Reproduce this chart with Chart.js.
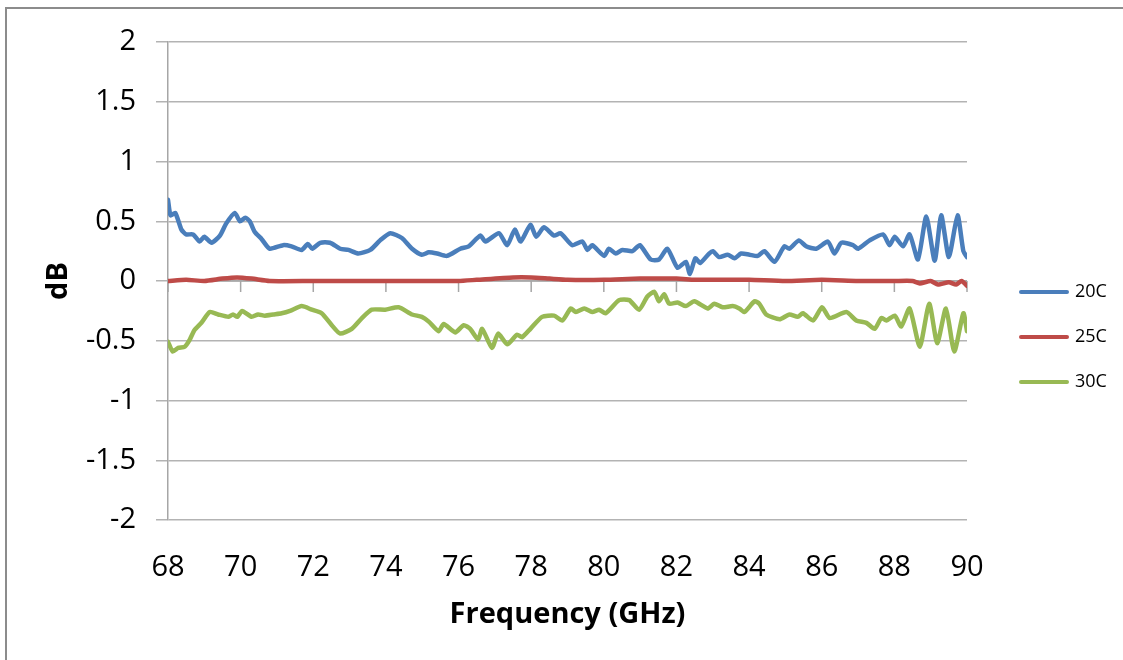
<!DOCTYPE html>
<html lang="en">
<head>
  <meta charset="UTF-8">
  <title>dB vs Frequency</title>
  <script src="https://cdn.jsdelivr.net/npm/chart.js"></script>
  <style>
    body {
      margin: 0;
      background: #fff;
    }

    .wrap {
      position: relative;
      width: 1123px;
      height: 660px;
      overflow: hidden;
    }

    .frame {
      position: absolute;
      left: 5px;
      top: 7px;
      width: 1300px;
      height: 800px;
      border: 2px solid #8c8c8c;
    }

    canvas {
      position: absolute;
      left: 0;
      top: 0;
    }
  </style>
</head>
<body>

  <div class="wrap">
    <div class="frame"></div>
    <canvas id="dbChart" width="1123" height="660"></canvas>
  </div>

  <script>
    const FONT = "'Open Sans', 'Liberation Sans', sans-serif";

    // series (GHz, dB)
    const freq20 = [68.0, 68.07, 68.2, 68.37, 68.5, 68.69, 68.87, 69.0, 69.2, 69.43, 69.6, 69.84, 69.98, 70.13, 70.25, 70.39, 70.58, 70.8, 71.17, 71.4, 71.68, 71.85, 71.97, 72.19, 72.46, 72.74, 72.97, 73.24, 73.57, 73.84, 74.12, 74.44, 74.72, 74.99, 75.18, 75.41, 75.68, 76.05, 76.28, 76.6, 76.74, 77.11, 77.34, 77.55, 77.71, 77.98, 78.14, 78.35, 78.63, 78.81, 79.13, 79.41, 79.55, 79.68, 80.01, 80.14, 80.33, 80.51, 80.79, 80.99, 81.29, 81.52, 81.75, 82.03, 82.26, 82.37, 82.52, 82.65, 82.9, 83.0, 83.18, 83.41, 83.6, 83.78, 84.01, 84.24, 84.42, 84.7, 84.97, 85.11, 85.37, 85.57, 85.85, 86.17, 86.35, 86.54, 86.86, 87.0, 87.32, 87.69, 87.87, 88.01, 88.24, 88.42, 88.65, 88.88, 89.11, 89.29, 89.5, 89.74, 89.9, 90.0];
    const db20 = [0.68, 0.55, 0.57, 0.43, 0.39, 0.39, 0.33, 0.37, 0.32, 0.38, 0.48, 0.57, 0.50, 0.53, 0.50, 0.41, 0.35, 0.27, 0.30, 0.29, 0.26, 0.31, 0.27, 0.32, 0.32, 0.27, 0.26, 0.23, 0.26, 0.34, 0.40, 0.36, 0.27, 0.22, 0.24, 0.23, 0.21, 0.27, 0.29, 0.38, 0.33, 0.40, 0.30, 0.43, 0.33, 0.47, 0.37, 0.45, 0.38, 0.40, 0.30, 0.33, 0.26, 0.30, 0.21, 0.27, 0.23, 0.26, 0.25, 0.30, 0.18, 0.18, 0.27, 0.11, 0.16, 0.06, 0.19, 0.15, 0.23, 0.25, 0.20, 0.22, 0.19, 0.23, 0.22, 0.21, 0.25, 0.16, 0.29, 0.27, 0.34, 0.29, 0.27, 0.33, 0.23, 0.32, 0.30, 0.27, 0.34, 0.39, 0.30, 0.37, 0.29, 0.39, 0.18, 0.54, 0.17, 0.55, 0.20, 0.55, 0.25, 0.20];

    const freq25 = [68.0, 68.5, 69.0, 69.5, 69.9, 70.3, 70.8, 72.0, 73.0, 74.0, 75.0, 76.0, 76.5, 77.5, 78.0, 78.5, 79.0, 80.0, 81.0, 82.0, 82.5, 83.0, 84.0, 85.0, 86.0, 87.0, 88.0, 88.5, 88.7, 89.0, 89.2, 89.5, 89.7, 89.85, 90.0];
    const db25 = [0.0, 0.01, 0.0, 0.02, 0.03, 0.02, 0.0, 0.0, 0.0, 0.0, 0.0, 0.0, 0.01, 0.03, 0.03, 0.02, 0.01, 0.01, 0.02, 0.02, 0.01, 0.01, 0.01, 0.0, 0.01, 0.0, 0.0, 0.0, -0.02, 0.0, -0.03, -0.01, -0.03, 0.0, -0.04];

    const freq30 = [68.0, 68.13, 68.28, 68.46, 68.6, 68.73, 68.92, 69.15, 69.38, 69.66, 69.79, 69.91, 70.04, 70.3, 70.48, 70.67, 70.9, 71.13, 71.36, 71.68, 71.96, 72.23, 72.51, 72.74, 73.06, 73.34, 73.61, 73.98, 74.35, 74.72, 74.99, 75.18, 75.45, 75.59, 75.91, 76.14, 76.32, 76.54, 76.65, 76.92, 77.09, 77.34, 77.61, 77.75, 77.98, 78.3, 78.63, 78.86, 79.09, 79.23, 79.46, 79.68, 79.87, 80.05, 80.42, 80.7, 80.97, 81.2, 81.39, 81.52, 81.66, 81.8, 82.03, 82.26, 82.49, 82.86, 83.04, 83.27, 83.55, 83.73, 83.87, 84.15, 84.28, 84.47, 84.84, 85.11, 85.34, 85.48, 85.76, 86.01, 86.22, 86.68, 86.95, 87.23, 87.46, 87.64, 87.78, 88.01, 88.19, 88.42, 88.7, 88.96, 89.18, 89.42, 89.65, 89.9, 90.0];
    const db30 = [-0.51, -0.59, -0.56, -0.55, -0.49, -0.41, -0.35, -0.26, -0.28, -0.30, -0.28, -0.30, -0.25, -0.30, -0.28, -0.29, -0.28, -0.27, -0.25, -0.21, -0.24, -0.27, -0.37, -0.44, -0.40, -0.31, -0.24, -0.24, -0.22, -0.28, -0.30, -0.34, -0.42, -0.36, -0.43, -0.37, -0.40, -0.49, -0.40, -0.56, -0.44, -0.53, -0.45, -0.47, -0.40, -0.30, -0.29, -0.33, -0.23, -0.26, -0.23, -0.26, -0.24, -0.27, -0.16, -0.16, -0.24, -0.13, -0.09, -0.17, -0.11, -0.19, -0.18, -0.21, -0.17, -0.23, -0.19, -0.22, -0.21, -0.23, -0.26, -0.17, -0.19, -0.28, -0.32, -0.28, -0.30, -0.27, -0.33, -0.22, -0.31, -0.26, -0.33, -0.35, -0.40, -0.31, -0.33, -0.29, -0.38, -0.23, -0.55, -0.19, -0.52, -0.23, -0.59, -0.27, -0.42];

    const seriesNames = ['20C', '25C', '30C'];
    const seriesColors = ['#4a7ebb', '#be4b48', '#98b954'];

    function pairs(xs, ys) {
      return xs.map((x, i) => ({ x: x, y: ys[i] }));
    }

    // Excel-style horizontal axis crossing at 0 with tick marks
    const zeroAxis = {
      id: 'zeroAxis',
      beforeDatasetsDraw(chart) {
        const { ctx, chartArea, scales } = chart;
        const y0 = scales.y.getPixelForValue(0);
        ctx.save();
        ctx.strokeStyle = '#a6a6a6';
        ctx.lineWidth = 1.5;
        ctx.beginPath();
        ctx.moveTo(chartArea.left, y0);
        ctx.lineTo(chartArea.right, y0);
        scales.x.ticks.forEach(t => {
          const px = scales.x.getPixelForValue(t.value);
          ctx.moveTo(px, y0);
          ctx.lineTo(px, y0 + 11);
        });
        ctx.stroke();
        ctx.restore();
      }
    };

    // legend on the right, lines + labels
    const sideLegend = {
      id: 'sideLegend',
      afterDraw(chart) {
        const ctx = chart.ctx;
        ctx.save();
        ctx.font = '18px ' + FONT;
        ctx.textBaseline = 'middle';
        ctx.fillStyle = '#000';
        chart.data.datasets.forEach((ds, i) => {
          const y = 292 + i * 45;
          ctx.strokeStyle = ds.borderColor;
          ctx.lineWidth = 4;
          ctx.lineCap = 'round';
          ctx.beginPath();
          ctx.moveTo(1021, y);
          ctx.lineTo(1067, y);
          ctx.stroke();
          ctx.fillText(ds.label, 1075, y);
        });
        ctx.restore();
      }
    };

    const ctx = document.getElementById('dbChart').getContext('2d');
    new Chart(ctx, {
      type: 'line',
      data: {
        datasets: [
          { label: seriesNames[0], data: pairs(freq20, db20), borderColor: seriesColors[0] },
          { label: seriesNames[1], data: pairs(freq25, db25), borderColor: seriesColors[1] },
          { label: seriesNames[2], data: pairs(freq30, db30), borderColor: seriesColors[2] }
        ]
      },
      options: {
        responsive: false,
        animation: false,
        layout: {
          padding: { top: 42, right: 156, left: 0, bottom: 0 }
        },
        elements: {
          line: { borderWidth: 4.5, tension: 0.2, borderCapStyle: 'round', borderJoinStyle: 'round' },
          point: { radius: 0 }
        },
        scales: {
          x: {
            type: 'linear',
            min: 68,
            max: 90,
            ticks: {
              stepSize: 2,
              padding: 30,
              color: '#000',
              font: { family: FONT, size: 29 }
            },
            grid: { display: false, drawTicks: false, tickLength: 0 },
            border: { display: false },
            title: {
              display: true,
              text: 'Frequency (GHz)',
              color: '#000',
              font: { family: FONT, size: 29, weight: 'bold' },
              padding: { top: 0, bottom: 28 }
            },
            afterFit(s) { s.height = 140; }
          },
          y: {
            min: -2,
            max: 2,
            ticks: {
              stepSize: 0.5,
              padding: 20,
              color: '#000',
              font: { family: FONT, size: 29 },
              callback: v => String(Number(v))
            },
            grid: { color: '#b3b3b3', lineWidth: 1.5, tickLength: 12 },
            border: { display: true, color: '#a6a6a6', width: 1.5 },
            title: {
              display: true,
              text: 'dB',
              color: '#000',
              font: { family: FONT, size: 29, weight: 'bold' },
              padding: { top: 41, bottom: 0 }
            },
            afterFit(s) { s.width = 168; }
          }
        },
        plugins: {
          legend: { display: false },
          tooltip: { enabled: false }
        }
      },
      plugins: [zeroAxis, sideLegend]
    });
  </script>

</body>
</html>
